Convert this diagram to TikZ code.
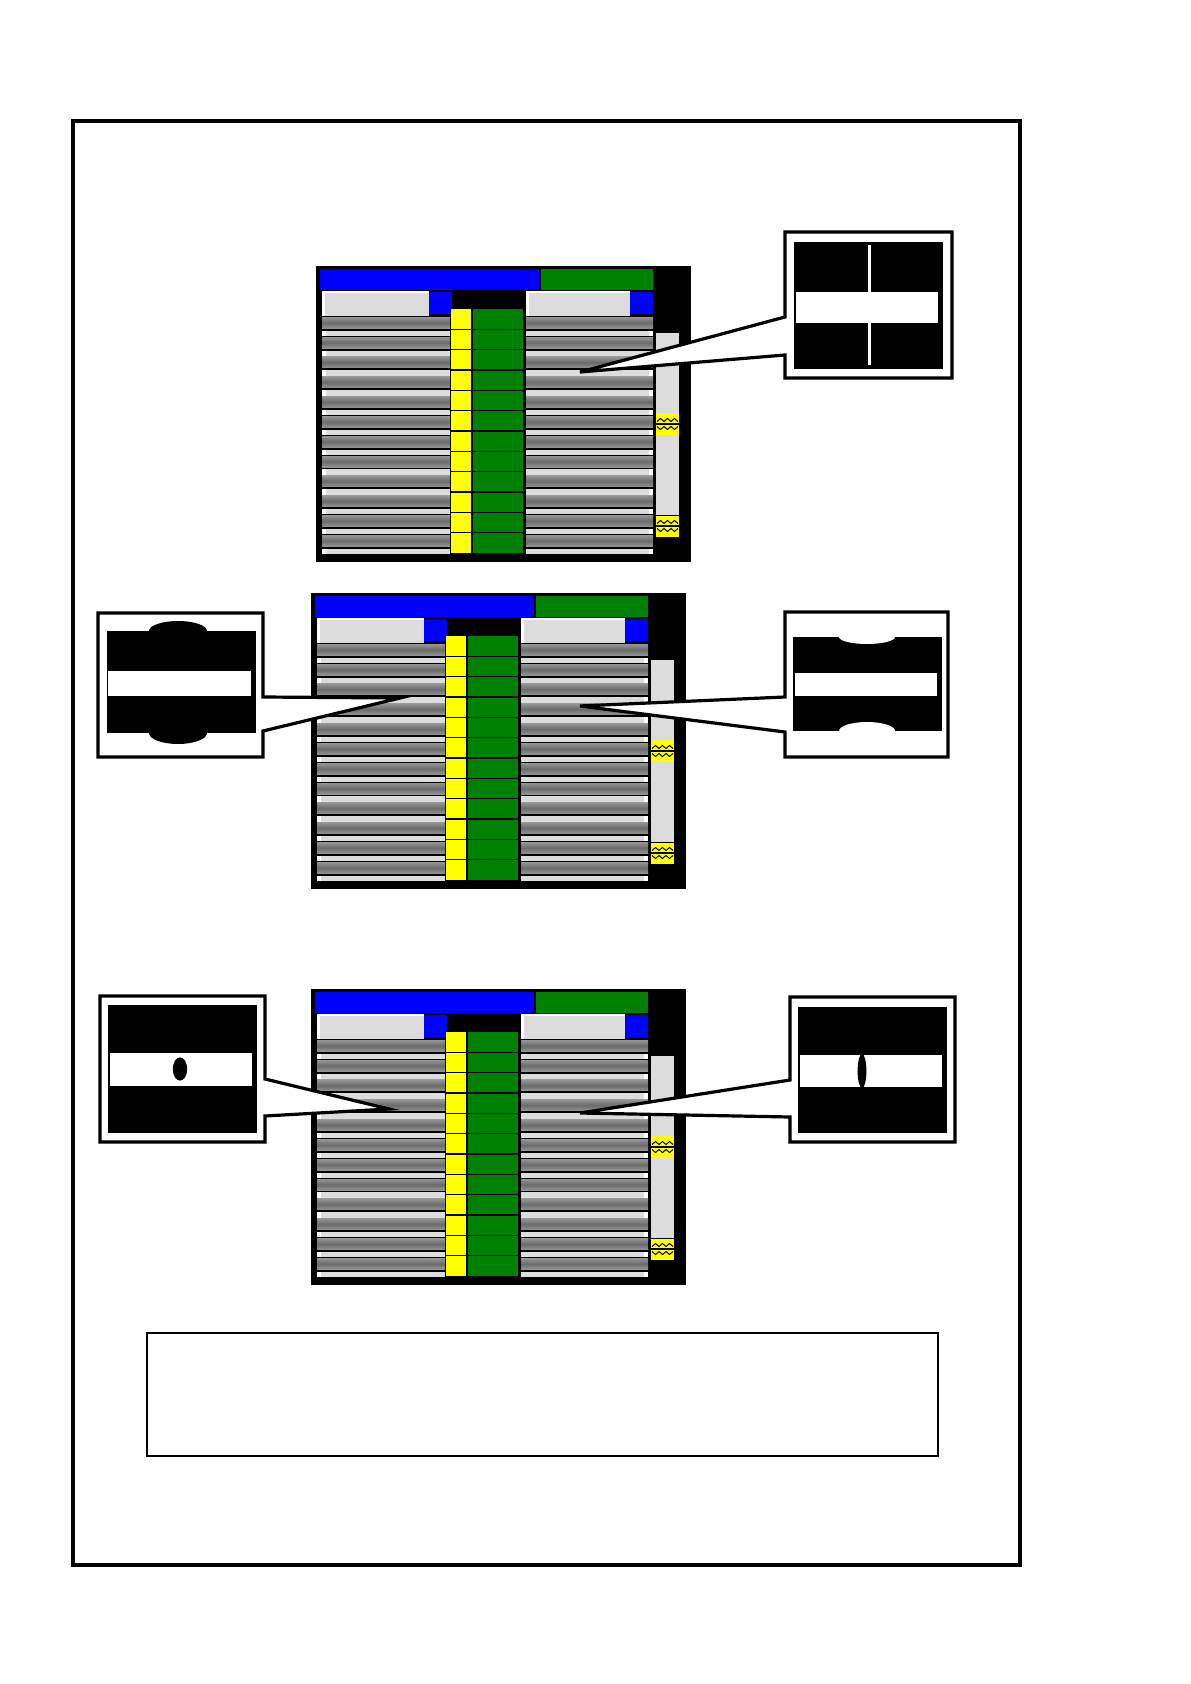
\documentclass[tikz,border=0pt]{standalone}
\definecolor{cblue}{HTML}{0000FF}
\definecolor{cgreen}{HTML}{008000}
\definecolor{cyell}{HTML}{FFFF00}
\definecolor{clgrey}{HTML}{DCDCDC}
\tikzset{
  callout/.style={fill=white,draw=black,line width=1.6pt,line join=miter},
  greybar/.style={top color=black!42,bottom color=black!42,middle color=black!58},
  framebox/.style={draw=black,line width=1.6pt},
  notebox/.style={draw=black,line width=0.6pt},
}
\newcommand\zigthumb[1]{%
  \fill[cyell] (340,#1) rectangle (363,{#1+22});
  \draw[line width=0.7pt] (340,{#1+11}) -- (363,{#1+11});
  \draw[line width=0.5pt] (341,{#1+8.5}) -- (344.5,{#1+5.5}) -- (348,{#1+8.5}) -- (351.5,{#1+5.5}) -- (355,{#1+8.5}) -- (358.5,{#1+5.5}) -- (362,{#1+8.5});
  \draw[line width=0.5pt] (341,{#1+13.5}) -- (344.5,{#1+16.5}) -- (348,{#1+13.5}) -- (351.5,{#1+16.5}) -- (355,{#1+13.5}) -- (358.5,{#1+16.5}) -- (362,{#1+13.5});
}
\newcommand\mypanel[2]{%
\begin{scope}[shift={(#1,#2)}]
  \fill[black] (0,0) rectangle (375,296);
  \fill[cblue] (4,3) rectangle (223,24);
  \fill[cgreen] (225,3) rectangle (337,24);
  \fill[white] (6,25) rectangle (113,50);
  \fill[clgrey] (9,27) rectangle (113,50);
  \fill[cblue] (113,26) rectangle (136,48);
  \fill[white] (210,25) rectangle (314,50);
  \fill[clgrey] (213,27) rectangle (314,50);
  \fill[cblue] (314,26) rectangle (337,48);
  \foreach \i in {0,...,11}{
    \pgfmathsetmacro\ya{51.3+19.82*\i}
    \shade[greybar] (6,\ya) rectangle (134,{\ya+11});
    \shade[greybar] (210,\ya) rectangle (337,{\ya+11});
    \fill[white] (6,{\ya+13.4}) rectangle (134,{\ya+18.8});
    \fill[clgrey] (10,{\ya+13.4}) rectangle (134,{\ya+18.8});
    \fill[white] (210,{\ya+13.4}) rectangle (337,{\ya+18.8});
    \fill[clgrey] (210,{\ya+13.4}) rectangle (333,{\ya+18.8});
  }
  \fill[cyell] (135,43) rectangle (155,287);
  \fill[cgreen] (157,43) rectangle (207,287);
  \foreach \k in {1,...,11}{
    \draw[line width=0.8pt] (135,{43+20.33*\k}) -- (207,{43+20.33*\k});
  }
  \fill[clgrey] (340,67) rectangle (363,271);
  \zigthumb{147}
  \zigthumb{249}
  \draw[line width=0.5pt] (340,249) -- (363,249);
\end{scope}}
\begin{document}
\begin{tikzpicture}[x=0.5pt,y=-0.5pt]
  \useasboundingbox (0,0) rectangle (1190,1684);
  \fill[white] (0,0) rectangle (1190,1684);
  % outer frame
  \draw[framebox] (73,121) rectangle (1020,1565);
  % panels
  \mypanel{316}{266}
  \mypanel{311}{593}
  \mypanel{311}{989}
  % callout 1 (top right)
  \coordinate (t1) at (580,372);
  \draw[callout] (785,232) -- (952,232) -- (952,378) -- (785,378) -- (785,355) -- (t1) -- (785,317) -- cycle;
  \fill[black] (794,242) rectangle (943,369);
  \fill[white] (796,292) rectangle (938,323);
  \fill[white] (868,245) rectangle (870.5,292);
  \fill[white] (868,323) rectangle (870.5,365);
  % callout 2 (middle left)
  \coordinate (t2) at (400,698);
  \draw[callout] (98,613) -- (263,613) -- (263,697) -- (t2) -- (263,731) -- (263,757) -- (98,757) -- cycle;
  \fill[black] (107,631) rectangle (256,733);
  \fill[black] (178,631) ellipse [x radius=14.5pt, y radius=5pt];
  \fill[black] (178,733) ellipse [x radius=14.5pt, y radius=5.5pt];
  \fill[white] (108,671) rectangle (251,696);
  % callout 3 (middle right)
  \coordinate (t3) at (580,706);
  \draw[callout] (785,612) -- (948,612) -- (948,757) -- (785,757) -- (785,732) -- (t3) -- (785,697) -- cycle;
  \fill[black] (793,637) rectangle (942,731);
  \fill[white] (867,637) ellipse [x radius=14pt, y radius=3.5pt];
  \fill[white] (867,731) ellipse [x radius=14pt, y radius=4.5pt];
  \fill[white] (795,673) rectangle (937,696);
  % callout 4 (bottom left)
  \coordinate (t4) at (389,1109);
  \draw[callout] (100,996) -- (265,996) -- (265,1079) -- (t4) -- (265,1116) -- (265,1142) -- (100,1142) -- cycle;
  \fill[black] (108,1005) rectangle (257,1133);
  \fill[white] (110,1053) rectangle (252,1086);
  \fill[black] (180,1069) ellipse [x radius=3.6pt, y radius=5.8pt];
  % callout 5 (bottom right)
  \coordinate (t5) at (580,1113);
  \draw[callout] (790,997) -- (955,997) -- (955,1142) -- (790,1142) -- (790,1117) -- (t5) -- (790,1080) -- cycle;
  \fill[black] (798,1007) rectangle (947,1133);
  \fill[white] (800,1055) rectangle (942,1087);
  \fill[black] (862,1071) ellipse [x radius=2.2pt, y radius=8.5pt];
  % bottom note box
  \draw[notebox] (147,1333) rectangle (938,1456);
\end{tikzpicture}
\end{document}
